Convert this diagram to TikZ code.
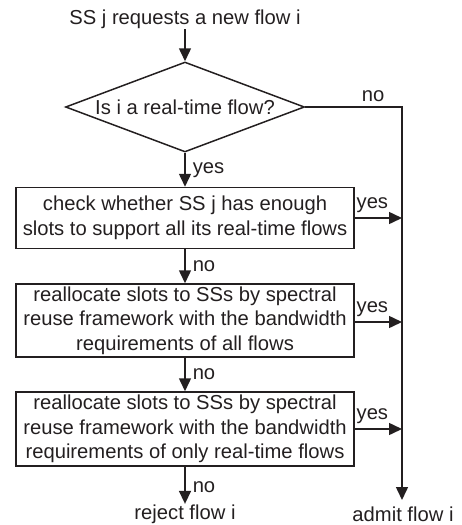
\documentclass[tikz,border=0pt]{standalone}
\usepackage{fontspec}
\setmainfont{Liberation Sans}
\usetikzlibrary{shapes.geometric,arrows.meta}
\definecolor{ink}{HTML}{231F20}
\tikzset{
	stepbox/.style={draw=ink, line width=1.5pt, align=center, inner sep=0pt, minimum width=338pt},
	lbl/.style={text=ink, inner sep=0pt}
}
\begin{document}
\begin{tikzpicture}[x=1pt, y=-1pt, >={Triangle[length=13pt,width=12pt]}, line width=1.5pt, draw=ink,
	font=\fontsize{20.2}{24.5}\selectfont, text=ink, line join=miter]
	\useasboundingbox (0,0) rectangle (461,525);
	% nodes
	\node[lbl] (start) at (185,19) {SS j requests a new flow i};
	\node[diamond, draw=ink, aspect=2.65, inner sep=0pt, minimum width=239pt, minimum height=90pt] (isrt) at (185,107) {Is i a real-time flow?};
	\node[stepbox, minimum height=61pt] (check) at (185,218) {check whether SS j has enough\\slots to support all its real-time flows};
	\node[stepbox, minimum height=73pt] (allflows) at (185,320.5) {reallocate slots to SSs by spectral\\reuse framework with the bandwidth\\requirements of all flows};
	\node[stepbox, minimum height=74pt] (rtflows) at (185,429) {reallocate slots to SSs by spectral\\reuse framework with the bandwidth\\requirements of only real-time flows};
	\node[lbl] (reject) at (185,514) {reject flow i};
	\node[lbl] (admit) at (403,514) {admit flow i};
	\coordinate (corner) at (402,107);
	\coordinate (end) at (402,500);
	\coordinate (j1) at (402,218);
	\coordinate (j2) at (402,322);
	\coordinate (j3) at (402,429);
	% connectors
	\draw[->] (start) -- (isrt.north);
	\draw[->] (isrt.south) -- node[lbl, right=7pt]{yes} (check.north);
	\draw[->] (check.south) -- node[lbl, right=7pt]{no} (allflows.north);
	\draw[->] (allflows.south) -- node[lbl, right=7pt]{no} (rtflows.north);
	\draw[->] (rtflows.south) -- node[lbl, right=7pt, yshift=-2pt]{no} (reject.north);
	\draw[->] (isrt.east) -- (corner) -- (end);
	\node[lbl] at (373,96) {no};
	\draw[->] (check.east |- j1) -- node[lbl, above=5pt, xshift=-6pt]{yes} (j1);
	\draw[->] (allflows.east |- j2) -- node[lbl, above=5pt, xshift=-6pt]{yes} (j2);
	\draw[->] (rtflows.east |- j3) -- node[lbl, above=5pt, xshift=-6pt]{yes} (j3);
\end{tikzpicture}
\end{document}
